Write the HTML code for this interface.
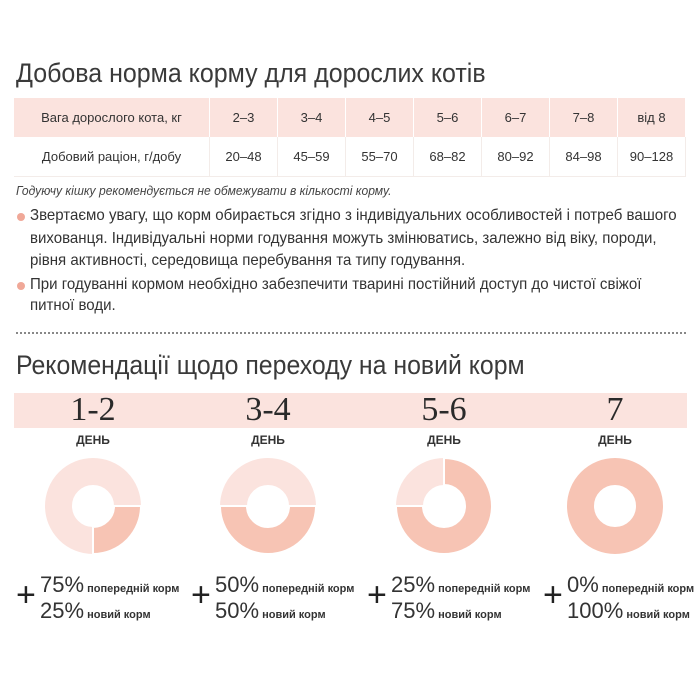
<!DOCTYPE html>
<html><head><meta charset="utf-8"><style>
body{margin:0;width:700px;height:700px;background:#fff;position:relative;overflow:hidden;font-family:"Liberation Sans",sans-serif;color:#333}
.a{position:absolute;white-space:nowrap}
.t{font-size:27px;color:#3a3a3a;transform-origin:0 0}
table{position:absolute;left:14px;top:98px;border-collapse:collapse;font-size:13px;color:#333}
td{text-align:center;border-right:1px solid #f3ece9;width:67px;padding:0}
td:first-child{width:195px}
tr.h td{background:#fbe3de;height:39px;border-right:1px solid #fff}
tr.d td{height:39px;border-bottom:1px solid #f3ece9}
.p{font-size:16px;color:#333;transform:scaleX(0.94);transform-origin:0 0}
.dot{position:absolute;width:8px;height:8px;border-radius:50%;background:#f0a898}
.n{font-family:"Liberation Serif",serif;font-size:34px;color:#2a2a2a;transform:translateX(-50%)}
.day{font-size:12px;font-weight:bold;color:#333;transform:translateX(-50%)}
.big{font-size:22px;color:#333;line-height:21px}
.big b{font-size:11px;font-weight:bold}
.plus{font-size:34px;color:#222}
</style></head><body>
<div class="a t" style="left:16px;top:58px;transform:scaleX(0.925)">Добова норма корму для дорослих котів</div>
<table>
<tr class="h"><td>Вага дорослого кота, кг</td><td>2–3</td><td>3–4</td><td>4–5</td><td>5–6</td><td>6–7</td><td>7–8</td><td>від 8</td></tr>
<tr class="d"><td>Добовий раціон, г/добу</td><td>20–48</td><td>45–59</td><td>55–70</td><td>68–82</td><td>80–92</td><td>84–98</td><td>90–128</td></tr>
</table>
<div class="a" style="left:16px;top:183px;font-size:13px;font-style:italic;color:#444;transform:scaleX(0.93);transform-origin:0 0">Годуючу кішку рекомендується не обмежувати в кількості корму.</div>
<div class="dot" style="left:17px;top:213px"></div>
<div class="a p" style="left:30px;top:207px">Звертаємо увагу, що корм обирається згідно з індивідуальних особливостей і потреб вашого</div>
<div class="a p" style="left:30px;top:230px">вихованця. Індивідуальні норми годування можуть змінюватись, залежно від віку, породи,</div>
<div class="a p" style="left:30px;top:252px">рівня активності, середовища перебування та типу годування.</div>
<div class="dot" style="left:17px;top:282px"></div>
<div class="a p" style="left:30px;top:276px">При годуванні кормом необхідно забезпечити тварині постійний доступ до чистої свіжої</div>
<div class="a p" style="left:30px;top:297px">питної води.</div>
<div class="a" style="left:16px;top:332px;width:670px;border-top:2px dotted #888"></div>
<div class="a t" style="left:16px;top:350px;transform:scaleX(0.92)">Рекомендації щодо переходу на новий корм</div>
<div class="a" style="left:14px;top:393px;width:673px;height:35px;background:#fbe3de"></div>
<div class="a n" style="left:93px;top:391px">1-2</div>
<div class="a n" style="left:268px;top:391px">3-4</div>
<div class="a n" style="left:444px;top:391px">5-6</div>
<div class="a n" style="left:615px;top:391px">7</div>
<div class="a day" style="left:93px;top:433px">ДЕНЬ</div>
<div class="a day" style="left:268px;top:433px">ДЕНЬ</div>
<div class="a day" style="left:444px;top:433px">ДЕНЬ</div>
<div class="a day" style="left:615px;top:433px">ДЕНЬ</div>
<svg class="a" style="left:0;top:0" width="700" height="700">
<g stroke="#fff" stroke-width="2">
<circle cx="93" cy="506" r="34.5" fill="none" stroke="#fbe3de" stroke-width="27"/>
<path d="M141 506 A48 48 0 0 1 93 554 L93 527 A21 21 0 0 0 114 506 Z" fill="#f7c4b4"/>
<circle cx="268" cy="506" r="34.5" fill="none" stroke="#fbe3de" stroke-width="27"/>
<path d="M316 506 A48 48 0 0 1 220 506 L247 506 A21 21 0 0 0 289 506 Z" fill="#f7c4b4"/>
<circle cx="444" cy="506" r="34.5" fill="none" stroke="#fbe3de" stroke-width="27"/>
<path d="M444 458 A48 48 0 1 1 396 506 L423 506 A21 21 0 1 0 444 485 Z" fill="#f7c4b4"/>
</g>
<circle cx="615" cy="506" r="34.5" fill="none" stroke="#f7c4b4" stroke-width="27"/>
</svg>
<div class="a plus" style="left:16px;top:576px">+</div>
<div class="a big" style="left:40px;top:574px">75%<b> попередній корм</b><br>25%<b> новий корм</b></div>
<div class="a plus" style="left:191px;top:576px">+</div>
<div class="a big" style="left:215px;top:574px">50%<b> попередній корм</b><br>50%<b> новий корм</b></div>
<div class="a plus" style="left:367px;top:576px">+</div>
<div class="a big" style="left:391px;top:574px">25%<b> попередній корм</b><br>75%<b> новий корм</b></div>
<div class="a plus" style="left:543px;top:576px">+</div>
<div class="a big" style="left:567px;top:574px">0%<b> попередній корм</b><br>100%<b> новий корм</b></div>
</body></html>
